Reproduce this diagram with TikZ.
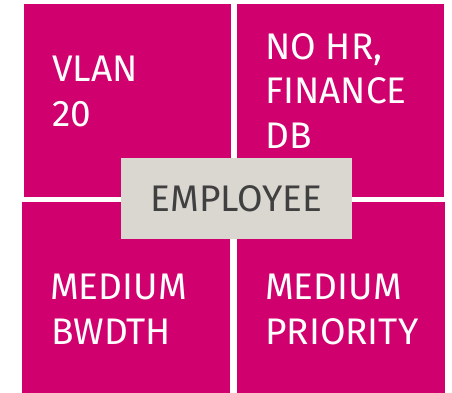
\documentclass[tikz,border=0pt]{standalone}
\usepackage{fontspec}
\setmainfont{Fira Sans}
\definecolor{mag}{HTML}{D0006F}
\definecolor{greybox}{HTML}{DAD6D0}
\definecolor{darktext}{HTML}{404040}
\tikzset{
  quad/.style={fill=mag, draw=none},
  lbl/.style={anchor=base west, inner sep=0pt, text=white, font=\fontsize{37}{44}\selectfont},
  centerbox/.style={fill=greybox, draw=none, minimum width=231pt, minimum height=81pt, inner sep=0pt,
    text=darktext, font=\fontsize{37}{44}\selectfont},
}
\begin{document}
\begin{tikzpicture}[x=1pt,y=-1pt]
\useasboundingbox (0,0) rectangle (452,393);
\fill[quad] (24,4) rectangle (231,197);
\fill[quad] (237,4) rectangle (444,197);
\fill[quad] (22,202) rectangle (230,393);
\fill[quad] (237,202) rectangle (445,393);
\node[lbl] (a1) at (52,82) {VLAN};
\node[lbl] (a2) at (52,127) {20};
\node[lbl] (b1) at (265,60) {NO HR,};
\node[lbl] (b2) at (265,104) {FINANCE};
\node[lbl] (b3) at (265,148) {DB};
\node[lbl] (c1) at (50,299) {MEDIUM};
\node[lbl] (c2) at (51,344) {BWDTH};
\node[lbl] (d1) at (265,299) {MEDIUM};
\node[lbl] (d2) at (265,344) {PRIORITY};
\node[centerbox] (emp) at (236.5,198.5) {EMPLOYEE};
\end{tikzpicture}
\end{document}
